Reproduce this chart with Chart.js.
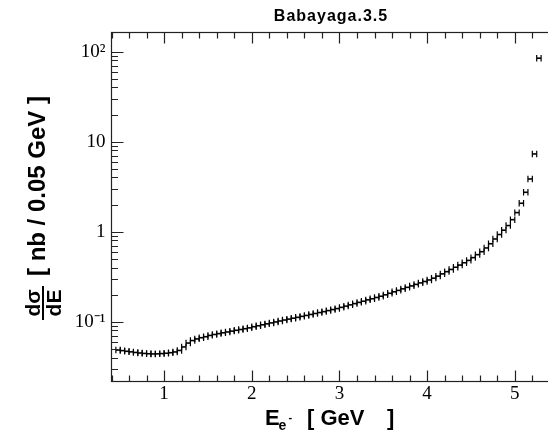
<!DOCTYPE html>
<html>
<head>
<meta charset="utf-8">
<script src="https://cdn.jsdelivr.net/npm/chart.js@4.4.0/dist/chart.umd.min.js"></script>
<style>
    html, body { margin: 0; padding: 0; background: #fff; overflow: hidden; }
    #chartCanvas { display: block; }
</style>
</head>
<body>
<canvas id="chartCanvas" width="585" height="439"></canvas>
<script>
// Data (bin centres in GeV, 0.05 GeV bins)
var binCenters = [
    0.475, 0.525, 0.575, 0.625, 0.675, 0.725, 0.775, 0.825, 0.875, 0.925,
    0.975, 1.025, 1.075, 1.125, 1.175, 1.225, 1.275, 1.325, 1.375, 1.425,
    1.475, 1.525, 1.575, 1.625, 1.675, 1.725, 1.775, 1.825, 1.875, 1.925,
    1.975, 2.025, 2.075, 2.125, 2.175, 2.225, 2.275, 2.325, 2.375, 2.425,
    2.475, 2.525, 2.575, 2.625, 2.675, 2.725, 2.775, 2.825, 2.875, 2.925,
    2.975, 3.025, 3.075, 3.125, 3.175, 3.225, 3.275, 3.325, 3.375, 3.425,
    3.475, 3.525, 3.575, 3.625, 3.675, 3.725, 3.775, 3.825, 3.875, 3.925,
    3.975, 4.025, 4.075, 4.125, 4.175, 4.225, 4.275, 4.325, 4.375, 4.425,
    4.475, 4.525, 4.575, 4.625, 4.675, 4.725, 4.775, 4.825, 4.875, 4.925,
    4.975, 5.025, 5.075, 5.125, 5.175, 5.225, 5.275
];

// d(sigma)/dE in nb / 0.05 GeV
var crossSection = [
    0.0485, 0.0478, 0.0470, 0.0463, 0.0456, 0.0450, 0.0445, 0.0441, 0.0439, 0.0440,
    0.0443, 0.0447, 0.0453, 0.0462, 0.0480, 0.0525, 0.0580, 0.0618, 0.0645, 0.0665,
    0.0682, 0.0705, 0.0722, 0.0738, 0.0754, 0.0770, 0.0787, 0.0804, 0.0820, 0.0837,
    0.0855, 0.0880, 0.0902, 0.0925, 0.0948, 0.0970, 0.0995, 0.1020, 0.1045, 0.1070,
    0.1095, 0.1120, 0.1148, 0.1175, 0.1205, 0.1235, 0.1265, 0.1295, 0.1330, 0.1365,
    0.1400, 0.1445, 0.1490, 0.1540, 0.1590, 0.1640, 0.1690, 0.1750, 0.1800, 0.1860,
    0.1920, 0.1990, 0.2070, 0.2150, 0.2230, 0.2320, 0.2410, 0.2500, 0.2600, 0.2700,
    0.2800, 0.2910, 0.3050, 0.3210, 0.3400, 0.3600, 0.3810, 0.4030, 0.4260, 0.4520,
    0.4800, 0.5150, 0.5560, 0.6000, 0.6600, 0.7350, 0.8300, 0.9300, 1.0400, 1.1700,
    1.36, 1.63, 2.07, 2.74, 3.85, 7.3, 84.5
];

var binWidth = 0.05;

var xTickValues = [1, 2, 3, 4, 5];
var xTickLabels = ['1', '2', '3', '4', '5'];
var yTickValues = [0.1, 1, 10, 100];
var yTickLabels = ['10\u207B\u00B9', '1', '10', '10\u00B2'];

var frameColor = '#222';

// ROOT style frame, inward ticks, error bars and titles
var rootStylePlugin = {
    id: 'rootStyle',
    afterDatasetsDraw: function (chart) {
        var ctx = chart.ctx;
        var xScale = chart.scales.x;

        // horizontal error bars with end caps
        var meta = chart.getDatasetMeta(0);
        ctx.save();
        ctx.strokeStyle = '#000';
        ctx.lineWidth = 1.6;
        meta.data.forEach(function (point, i) {
            var x1 = xScale.getPixelForValue(binCenters[i] - binWidth / 2);
            var x2 = xScale.getPixelForValue(binCenters[i] + binWidth / 2);
            var y = point.y;
            ctx.beginPath();
            ctx.moveTo(x1, y);
            ctx.lineTo(x2, y);
            ctx.stroke();
            ctx.lineWidth = 1.2;
            ctx.beginPath();
            ctx.moveTo(x1, y - 3.2);
            ctx.lineTo(x1, y + 3.2);
            ctx.moveTo(x2, y - 3.2);
            ctx.lineTo(x2, y + 3.2);
            ctx.stroke();
            ctx.lineWidth = 1.6;
        });
        ctx.restore();
    },
    afterDraw: function (chart) {
        var ctx = chart.ctx;
        var area = chart.chartArea;
        var xScale = chart.scales.x;
        var yScale = chart.scales.y;

        ctx.save();
        ctx.strokeStyle = frameColor;
        ctx.lineWidth = 1.2;
        ctx.strokeRect(area.left, area.top, area.right - area.left, area.bottom - area.top);

        ctx.beginPath();
        // x ticks every 0.2, long at integers
        for (var k = 0; k <= 30; k++) {
            var v = 0.4 + k * 0.2;
            if (v > xScale.max + 1e-6) break;
            var px = Math.round(xScale.getPixelForValue(v)) + 0.5;
            var len = Math.abs(v - Math.round(v)) < 1e-6 ? 11 : 6;
            ctx.moveTo(px, area.bottom);
            ctx.lineTo(px, area.bottom - len);
            ctx.moveTo(px, area.top);
            ctx.lineTo(px, area.top + len);
        }
        // y log ticks
        for (var d = -2; d <= 2; d++) {
            for (var m = 1; m <= 9; m++) {
                var val = m * Math.pow(10, d);
                if (val < yScale.min || val > yScale.max) continue;
                var py = Math.round(yScale.getPixelForValue(val)) + 0.5;
                var ylen = m === 1 ? 12 : 6.5;
                ctx.moveTo(area.left, py);
                ctx.lineTo(area.left + ylen, py);
                ctx.moveTo(area.right, py);
                ctx.lineTo(area.right - ylen, py);
            }
        }
        ctx.stroke();

        ctx.fillStyle = '#000';
        ctx.strokeStyle = '#000';

        // main title
        ctx.font = 'bold 16px "Liberation Sans", Arial, sans-serif';
        ctx.letterSpacing = '1px';
        ctx.textAlign = 'center';
        ctx.textBaseline = 'alphabetic';
        ctx.fillText('Babayaga.3.5', 331, 21);
        ctx.letterSpacing = '0px';

        // x axis title: E_{e^-} [ GeV ]
        ctx.textAlign = 'left';
        ctx.font = 'bold 22px "Liberation Sans", Arial, sans-serif';
        ctx.fillText('E', 265, 425);
        ctx.font = 'bold 14px "Liberation Sans", Arial, sans-serif';
        ctx.fillText('e', 278.5, 430);
        ctx.font = 'bold 11px "Liberation Sans", Arial, sans-serif';
        ctx.fillText('-', 288.5, 421);
        ctx.font = 'bold 22px "Liberation Sans", Arial, sans-serif';
        ctx.fillText('[ GeV', 307, 425);
        ctx.fillText(']', 387, 425);

        // y axis title: dsigma/dE [ nb / 0.05 GeV ]
        ctx.save();
        ctx.translate(45, 186);
        ctx.rotate(-Math.PI / 2);
        ctx.textAlign = 'center';
        ctx.font = 'bold 24px "Liberation Sans", Arial, sans-serif';
        ctx.fillText('[ nb / 0.05 GeV ]', 0, 0);
        ctx.restore();

        ctx.save();
        ctx.translate(43, 303);
        ctx.rotate(-Math.PI / 2);
        ctx.textAlign = 'center';
        ctx.font = 'bold 21px "Liberation Sans", Arial, sans-serif';
        ctx.fillText('d\u03C3', 0, -3);
        ctx.fillText('dE', 0, 18);
        ctx.lineWidth = 2;
        ctx.beginPath();
        ctx.moveTo(-17, 0);
        ctx.lineTo(17, 0);
        ctx.stroke();
        ctx.restore();

        ctx.restore();
    }
};

function drawGraph(chartContextId) {
    var ctx = document.getElementById(chartContextId);
    var points = binCenters.map(function (x, i) {
        return { x: x, y: crossSection[i] };
    });

    return new Chart(ctx, {
        type: 'scatter',
        data: {
            datasets: [{
                label: 'Babayaga.3.5',
                data: points,
                pointRadius: 0,
                pointHoverRadius: 0,
                showLine: false,
                borderColor: '#000',
                backgroundColor: '#000'
            }]
        },
        options: {
            responsive: false,
            animation: false,
            devicePixelRatio: 1,
            layout: { padding: { left: 0, right: 17.6, top: 32.5, bottom: 0 } },
            plugins: {
                legend: { display: false },
                title: { display: false },
                tooltip: { enabled: false }
            },
            scales: {
                x: {
                    type: 'linear',
                    min: 0.4,
                    max: 5.6,
                    afterBuildTicks: function (scale) {
                        scale.ticks = xTickValues.map(function (v) { return { value: v }; });
                    },
                    afterFit: function (scale) { scale.height = 57.5; },
                    ticks: {
                        autoSkip: false,
                        maxRotation: 0,
                        padding: 1,
                        color: '#000',
                        font: { family: '"Liberation Serif", "Times New Roman", serif', size: 19 },
                        callback: function (value, index) { return xTickLabels[index]; }
                    },
                    grid: { display: false, drawTicks: false },
                    border: { display: false }
                },
                y: {
                    type: 'logarithmic',
                    min: 0.0217,
                    max: 163,
                    afterBuildTicks: function (scale) {
                        scale.ticks = yTickValues.map(function (v) { return { value: v }; });
                    },
                    afterFit: function (scale) { scale.width = 111.5; },
                    ticks: {
                        autoSkip: false,
                        padding: 6,
                        color: '#000',
                        font: { family: '"Liberation Serif", "Times New Roman", serif', size: 19 },
                        callback: function (value, index) { return yTickLabels[index]; }
                    },
                    grid: { display: false, drawTicks: false },
                    border: { display: false }
                }
            }
        },
        plugins: [rootStylePlugin]
    });
}

drawGraph('chartCanvas');
</script>
</body>
</html>
